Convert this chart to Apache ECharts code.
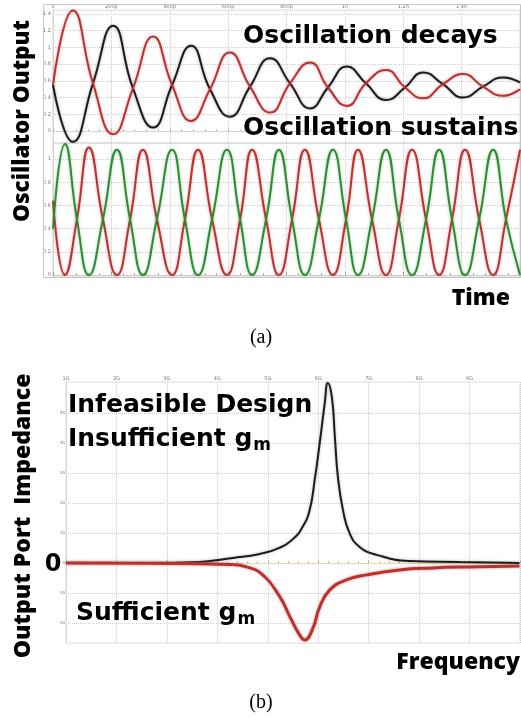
<!DOCTYPE html>
<html><head><meta charset="utf-8">
<script src="https://cdn.jsdelivr.net/npm/echarts@6/dist/echarts.min.js"></script>
<style>html,body{margin:0;padding:0;background:#fff}#c{width:521px;height:721px}</style>
</head><body><div id="c"></div>
<script>
// ---- (a) top: decaying oscillation (time in ns) ----
const decayTime  = [0, 0.068, 0.137, 0.206, 0.274, 0.343, 0.408, 0.473, 0.538, 0.606, 0.675, 0.744, 0.812, 0.881, 0.942, 1.007, 1.072, 1.141, 1.206, 1.268, 1.336, 1.405, 1.473, 1.542, 1.6];
const decayRed   = [0.55, 1.44, 0.57, -0.04, 0.51, 1.13, 0.55, 0.12, 0.50, 0.94, 0.53, 0.22, 0.57, 0.82, 0.52, 0.30, 0.57, 0.73, 0.52, 0.39, 0.56, 0.68, 0.53, 0.42, 0.50];
const decayBlack = [0.55, -0.13, 0.57, 1.26, 0.51, 0.04, 0.55, 1.02, 0.50, 0.17, 0.53, 0.87, 0.57, 0.27, 0.52, 0.77, 0.57, 0.37, 0.52, 0.70, 0.56, 0.40, 0.53, 0.64, 0.58];

// ---- (a) bottom: sustained oscillation ----
const sustTime  = [0, 0.041, 0.082, 0.123, 0.171, 0.219, 0.264, 0.308, 0.356, 0.408, 0.452, 0.497, 0.545, 0.596, 0.641, 0.682, 0.730, 0.774, 0.819, 0.863, 0.911, 0.959, 1.004, 1.045, 1.093, 1.141, 1.185, 1.230, 1.278, 1.323, 1.367, 1.412, 1.460, 1.508, 1.552, 1.600];
const sustGreen = [0.40, 1.13, 0.48, 0.00, 0.48, 1.08, 0.48, 0.00, 0.48, 1.08, 0.48, 0.00, 0.48, 1.08, 0.48, 0.00, 0.48, 1.08, 0.48, 0.00, 0.48, 1.08, 0.48, 0.00, 0.48, 1.08, 0.48, 0.00, 0.48, 1.08, 0.48, 0.00, 0.48, 1.08, 0.48, 0.00];
const sustRed   = [0.64, 0.00, 0.48, 1.10, 0.48, 0.00, 0.48, 1.08, 0.48, 0.00, 0.48, 1.08, 0.48, 0.00, 0.48, 1.08, 0.48, 0.00, 0.48, 1.08, 0.48, 0.00, 0.48, 1.08, 0.48, 0.00, 0.48, 1.08, 0.48, 0.00, 0.48, 1.08, 0.48, 0.00, 0.48, 1.08];

const timeTickLabels = ['0', '200p', '400p', '600p', '800p', '1n', '1.2n', '1.4n', '1.6n'];
const outTicksTop = [0, 0.2, 0.4, 0.6, 0.8, 1, 1.2, 1.4];
const outTicksBottom = [0, 0.2, 0.4, 0.6, 0.8, 1];

// ---- (b): output port impedance vs frequency (GHz) ----
const freqBlack = [1.00, 2.66, 3.65, 4.31, 4.84, 5.18, 5.50, 5.69, 5.83, 5.93, 6.03, 6.13, 6.19, 6.27, 6.33, 6.39, 6.49, 6.62, 6.82, 7.16, 7.81, 8.80, 9.99];
const impBlack  = [0, 0, 0.33, 1.67, 3.0, 4.67, 8.0, 12.0, 17.67, 27.67, 40.0, 53.33, 60.0, 55.33, 42.0, 28.67, 17.67, 10.0, 5.33, 2.67, 0.67, 0.33, 0];
const freqRed   = [1.00, 2.66, 3.65, 4.25, 4.58, 4.90, 5.24, 5.44, 5.63, 5.73, 5.89, 6.03, 6.23, 6.56, 6.96, 7.61, 8.27, 8.94, 9.99];
const impRed    = [0, -0.1, -0.3, -0.5, -1.33, -4.0, -11.33, -18.0, -24.0, -25.67, -22.0, -14.67, -9.0, -5.67, -4.0, -2.33, -1.67, -1.33, -1.0];
const freqTickLabels = ['1G', '2G', '3G', '4G', '5G', '6G', '7G', '8G', '9G', '10G'];
const impTicks = [-20, -10, 0, 10, 20, 30, 40, 50];

const zip = (xs, ys) => xs.map((x, i) => [x, ys[i]]);

const RED = '#b83232', BLACK = '#1c1c1c', GREEN = '#2e8b34';
const tickLbl = {fontSize: 5, color: '#777', fontFamily: 'DejaVu Sans'};
const dotted = {show: true, lineStyle: {type: 'dotted', color: '#cfcfcf', width: 1}};

function lineSeries(x, y, data, color, width, halo) {
  return {
    type: 'line', xAxisIndex: x, yAxisIndex: y, data: data,
    smooth: 0.5, showSymbol: false, animation: false, silent: true,
    lineStyle: {color: color, width: width, shadowColor: halo, shadowBlur: halo ? 3 : 0}
  };
}

const chart = echarts.init(document.getElementById('c'), null, {renderer: 'canvas'});

// measure text widths for subscript placement
const mctx = document.createElement('canvas').getContext('2d');
mctx.font = 'bold 25px "DejaVu Sans"';
const wIns = mctx.measureText('Insufficient g').width;
const wSuf = mctx.measureText('Sufficient g').width;

const annFont = 'bold 25px "DejaVu Sans"';
const axFont = '800 23px "Open Sans"';
const axFontTop = '800 22.5px "Open Sans"';

chart.setOption({
  backgroundColor: '#fff',
  animation: false,
  grid: [
    {left: 53, top: 10, width: 467, height: 133, show: true, borderColor: '#d8d8d8', borderWidth: 1},
    {left: 53, top: 143, width: 467, height: 134, show: true, borderColor: '#d8d8d8', borderWidth: 1},
    {left: 66, top: 382, width: 454, height: 261, show: true, borderColor: '#dcdcdc', borderWidth: 1}
  ],
  xAxis: [
    {gridIndex: 0, type: 'value', position: 'top', min: 0, max: 1.6, interval: 0.2,
      axisLine: {show: true, lineStyle: {color: '#cfd8cf'}},
      axisTick: {show: true, length: 2, lineStyle: {color: '#aaa'}},
      minorTick: {show: true, splitNumber: 5, length: 1.5, lineStyle: {color: '#aaa'}},
      axisLabel: Object.assign({margin: 1, showMaxLabel: false,
        formatter: v => timeTickLabels[Math.round(v / 0.2)]}, tickLbl),
      splitLine: dotted},
    {gridIndex: 1, type: 'value', position: 'bottom', min: 0, max: 1.6, interval: 0.2,
      axisLine: {show: true, lineStyle: {color: '#c8c8c8'}},
      axisTick: {show: true, inside: true, length: 3, lineStyle: {color: '#999'}},
      minorTick: {show: true, splitNumber: 5, length: 2, lineStyle: {color: '#aaa'}},
      axisLabel: {show: false},
      splitLine: dotted},
    {gridIndex: 2, type: 'value', position: 'top', min: 1, max: 10, interval: 1,
      axisLine: {show: true, lineStyle: {color: '#ddd68a', type: 'dotted'}},
      axisTick: {show: true, length: 2, lineStyle: {color: '#aaa'}},
      minorTick: {show: true, splitNumber: 5, length: 1.5, lineStyle: {color: '#aaa'}},
      axisLabel: Object.assign({margin: 1, showMaxLabel: false,
        formatter: v => freqTickLabels[Math.round(v) - 1]}, tickLbl),
      splitLine: dotted}
  ],
  yAxis: [
    {gridIndex: 0, type: 'value', min: -0.144, max: 1.447,
      axisLine: {show: true, lineStyle: {color: '#cfd8cf'}},
      axisTick: {show: false, customValues: outTicksTop},
      axisLabel: Object.assign({margin: 2, customValues: outTicksTop}, tickLbl),
      splitLine: dotted},
    {gridIndex: 1, type: 'value', min: -0.017, max: 1.138,
      axisLine: {show: true, lineStyle: {color: '#cfd8cf'}},
      axisTick: {show: false, customValues: outTicksBottom},
      axisLabel: Object.assign({margin: 2, customValues: outTicksBottom}, tickLbl),
      splitLine: dotted},
    {gridIndex: 2, type: 'value', min: -26.7, max: 60.3,
      axisLine: {show: true, lineStyle: {color: '#d0dcd0'}},
      axisTick: {show: false, customValues: impTicks},
      axisLabel: Object.assign({margin: 1, customValues: impTicks}, tickLbl, {fontSize: 4}),
      splitLine: dotted}
  ],
  series: [
    lineSeries(0, 0, zip(decayTime, decayBlack), BLACK, 2, 'rgba(0,0,0,0.35)'),
    lineSeries(0, 0, zip(decayTime, decayRed), RED, 2, 'rgba(190,50,50,0.45)'),
    lineSeries(1, 1, zip(sustTime, sustRed), RED, 2, 'rgba(190,50,50,0.45)'),
    lineSeries(1, 1, zip(sustTime, sustGreen), GREEN, 2, 'rgba(40,140,50,0.45)'),
    lineSeries(2, 2, zip(freqBlack, impBlack), BLACK, 2, 'rgba(0,0,0,0.3)'),
    lineSeries(2, 2, zip(freqRed, impRed), RED, 3, 'rgba(200,70,70,0.55)')
  ],
  graphic: [
    {type: 'rect', silent: true, z: 1, shape: {x: 43.5, y: 4.5, width: 477, height: 273},
      style: {fill: null, stroke: '#c4c4c4', lineWidth: 1}},
    {type: 'text', silent: true, z: 100, x: 23, y: 121, rotation: Math.PI / 2,
      style: {text: 'Oscillator Output', font: axFontTop, fill: '#000', textAlign: 'center', textVerticalAlign: 'middle'}},
    {type: 'text', silent: true, z: 100, x: 23, y: 516, rotation: Math.PI / 2,
      style: {text: 'Output Port  Impedance', font: axFont, fill: '#000', textAlign: 'center', textVerticalAlign: 'middle'}},
    {type: 'text', silent: true, z: 100, x: 243, y: 36,
      style: {text: 'Oscillation decays', font: annFont, fill: '#000', textAlign: 'left', textVerticalAlign: 'middle'}},
    {type: 'text', silent: true, z: 100, x: 243, y: 128,
      style: {text: 'Oscillation sustains', font: annFont, fill: '#000', textAlign: 'left', textVerticalAlign: 'middle'}},
    {type: 'text', silent: true, z: 100, x: 510, y: 298,
      style: {text: 'Time', font: axFont, fill: '#000', textAlign: 'right', textVerticalAlign: 'middle'}},
    {type: 'text', silent: true, z: 100, x: 261, y: 338,
      style: {text: '(a)', font: '20px "Liberation Serif"', fill: '#000', textAlign: 'center', textVerticalAlign: 'middle'}},
    {type: 'text', silent: true, z: 100, x: 68, y: 405,
      style: {text: 'Infeasible Design', font: annFont, fill: '#000', textAlign: 'left', textVerticalAlign: 'middle'}},
    {type: 'text', silent: true, z: 100, x: 68, y: 439,
      style: {text: 'Insufficient g', font: annFont, fill: '#000', textAlign: 'left', textVerticalAlign: 'middle'}},
    {type: 'text', silent: true, z: 100, x: 68 + wIns + 1, y: 446,
      style: {text: 'm', font: 'bold 17px "DejaVu Sans"', fill: '#000', textAlign: 'left', textVerticalAlign: 'middle'}},
    {type: 'text', silent: true, z: 100, x: 53, y: 565,
      style: {text: '0', font: 'bold 24px "DejaVu Sans"', fill: '#000', textAlign: 'center', textVerticalAlign: 'middle'}},
    {type: 'text', silent: true, z: 100, x: 76, y: 613,
      style: {text: 'Sufficient g', font: annFont, fill: '#000', textAlign: 'left', textVerticalAlign: 'middle'}},
    {type: 'text', silent: true, z: 100, x: 76 + wSuf + 1, y: 620,
      style: {text: 'm', font: 'bold 17px "DejaVu Sans"', fill: '#000', textAlign: 'left', textVerticalAlign: 'middle'}},
    {type: 'text', silent: true, z: 100, x: 520, y: 662,
      style: {text: 'Frequency', font: axFont, fill: '#000', textAlign: 'right', textVerticalAlign: 'middle'}},
    {type: 'text', silent: true, z: 100, x: 261, y: 703,
      style: {text: '(b)', font: '20px "Liberation Serif"', fill: '#000', textAlign: 'center', textVerticalAlign: 'middle'}}
  ]
});
</script></body></html>
